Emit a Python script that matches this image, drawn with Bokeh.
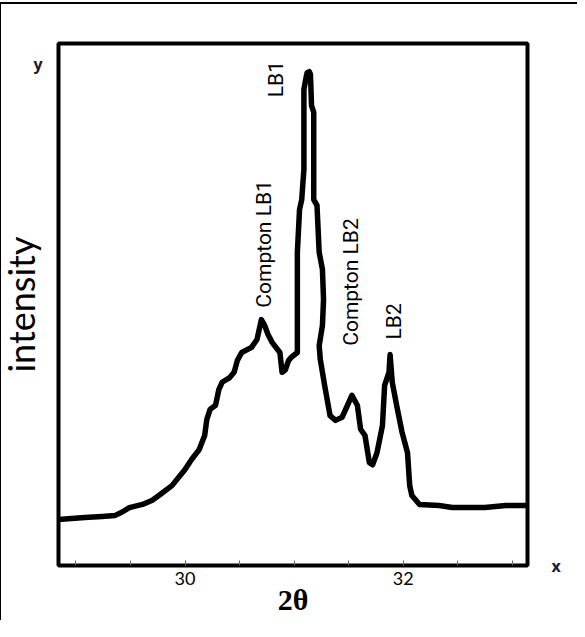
from bokeh.plotting import figure
from bokeh.models import Label, FixedTicker, Range1d, LinearAxis
from bokeh.embed import file_html
from bokeh.resources import INLINE

# ---- data ----
two_theta = [28.84, 28.96, 29.08, 29.24, 29.36, 29.42, 29.49, 29.61, 29.70, 29.76,
             29.88, 30.00, 30.06, 30.13, 30.18, 30.20, 30.23, 30.28, 30.31, 30.34,
             30.41, 30.45, 30.48, 30.52, 30.61, 30.66, 30.70, 30.73, 30.76, 30.80,
             30.87, 30.89, 30.92, 30.95, 30.98, 31.03, 31.03, 31.05, 31.07, 31.09,
             31.09, 31.11, 31.12, 31.14, 31.15, 31.16, 31.18, 31.18, 31.21, 31.23,
             31.26, 31.27, 31.26, 31.23, 31.24, 31.28, 31.33, 31.38, 31.44, 31.49,
             31.53, 31.58, 31.61, 31.65, 31.69, 31.72, 31.76, 31.81, 31.83, 31.87,
             31.88, 31.90, 31.94, 31.99, 32.04, 32.06, 32.08, 32.15, 32.33, 32.45,
             32.75, 32.94, 33.12]
intensity = [8.8, 9.0, 9.2, 9.4, 9.6, 10.2, 11.1, 11.7, 12.5, 13.4,
             15.3, 18.4, 20.3, 22.2, 24.9, 28.0, 29.9, 30.7, 33.7, 35.1,
             36.0, 37.0, 39.3, 40.8, 41.8, 43.3, 47.1, 46.0, 44.3, 42.7,
             40.8, 37.0, 37.5, 39.3, 40.0, 40.8, 60.0, 68.2, 70.1, 75.9,
             91.2, 93.5, 94.4, 94.6, 94.1, 88.1, 86.8, 70.1, 69.0, 60.0,
             56.7, 51.0, 46.0, 42.1, 39.5, 34.5, 28.7, 27.8, 28.4, 30.7,
             32.6, 30.7, 26.1, 24.9, 19.7, 19.3, 21.6, 26.8, 34.5, 37.0,
             40.4, 35.1, 30.7, 25.5, 21.6, 15.3, 13.4, 11.7, 11.5, 11.1,
             11.1, 11.5, 11.5]
x_major_ticks = [30, 32]
x_minor_ticks = [29.0, 29.5, 30.0, 30.5, 31.0, 31.5, 32.0, 32.5, 33.0]
peak_names = ["Compton LB1", "LB1", "Compton LB2", "LB2"]
peak_x = [30.72, 30.83, 31.52, 31.92]
peak_y = [49.4, 89.7, 42.1, 43.3]
x_axis_name = "x"
y_axis_name = "y"
x_title = "2θ"
y_title = "intensity"
y_name_at = 96
x_name_at = 0

p = figure(width=585, height=620, output_backend="svg", toolbar_location=None,
           title=None,
           x_range=Range1d(28.84, 33.14), y_range=Range1d(0, 100),
           min_border_left=66, min_border_right=50, min_border_top=43,
           min_border_bottom=55)
# the canvas starts at the page's left edge; the outer picture frame
# (left and top edges only, as in the reference) is painted behind it
p.styles = {
    "margin-left": "-8px",
    "background": ("linear-gradient(#000, #000) 7px 2px / 2px 100% no-repeat, "
                   "linear-gradient(#000, #000) 7px 2px / 100% 2px no-repeat, #fff"),
}
p.background_fill_color = "white"
p.border_fill_color = None
p.outline_line_color = "black"
p.outline_line_width = 4
p.grid.visible = False

# bottom axis
ax = p.xaxis[0]
ax.ticker = FixedTicker(ticks=x_major_ticks, minor_ticks=x_minor_ticks)
ax.axis_line_color = None
ax.major_tick_in = 5
ax.major_tick_out = 0
ax.minor_tick_in = 5
ax.minor_tick_out = 0
ax.major_tick_line_color = "#666666"
ax.minor_tick_line_color = "#666666"
ax.major_label_text_font = "Lato"
ax.major_label_text_font_size = "18px"
ax.major_label_text_color = "black"
ax.major_label_standoff = 6
ax.axis_label = x_title
ax.axis_label_text_font = "Liberation Serif"
ax.axis_label_text_font_style = "bold"
ax.axis_label_text_font_size = "30px"
ax.axis_label_text_color = "black"
ax.axis_label_standoff = -5

# left axis: only the "y" name and the "intensity" label
ya = p.yaxis[0]
ya.ticker = FixedTicker(ticks=[y_name_at])
ya.major_label_overrides = {y_name_at: y_axis_name}
ya.axis_line_color = None
ya.major_tick_line_color = None
ya.minor_tick_line_color = None
ya.major_tick_in = 0
ya.major_tick_out = 0
ya.major_label_standoff = 16
ya.major_label_text_font = "Open Sans"
ya.major_label_text_font_style = "bold"
ya.major_label_text_font_size = "16px"
ya.major_label_text_color = "#1c1c30"
ya.axis_label = y_title
ya.axis_label_text_font = "Lato"
ya.axis_label_text_font_style = "normal"
ya.axis_label_text_font_size = "36px"
ya.axis_label_text_color = "black"
ya.axis_label_standoff = -13

# right axis: only the "x" name
ra = LinearAxis(ticker=FixedTicker(ticks=[x_name_at]),
                major_label_overrides={x_name_at: x_axis_name})
ra.axis_line_color = None
ra.major_tick_line_color = None
ra.minor_tick_line_color = None
ra.major_tick_in = 0
ra.major_tick_out = 0
ra.major_label_standoff = 24
ra.major_label_text_font = "Open Sans"
ra.major_label_text_font_style = "bold"
ra.major_label_text_font_size = "16px"
ra.major_label_text_color = "#1c1c30"
p.add_layout(ra, "right")

p.line(two_theta, intensity, line_width=5.5, line_color="black",
       line_join="round", line_cap="round")

for name, xx, yy in zip(peak_names, peak_x, peak_y):
    p.add_layout(Label(x=xx, y=yy, text=name, angle=90, angle_units="deg",
                       text_align="left", text_baseline="middle",
                       text_font="Roboto", text_font_size="21px",
                       text_color="black"))

open("out.html", "w").write(file_html(p, INLINE))
